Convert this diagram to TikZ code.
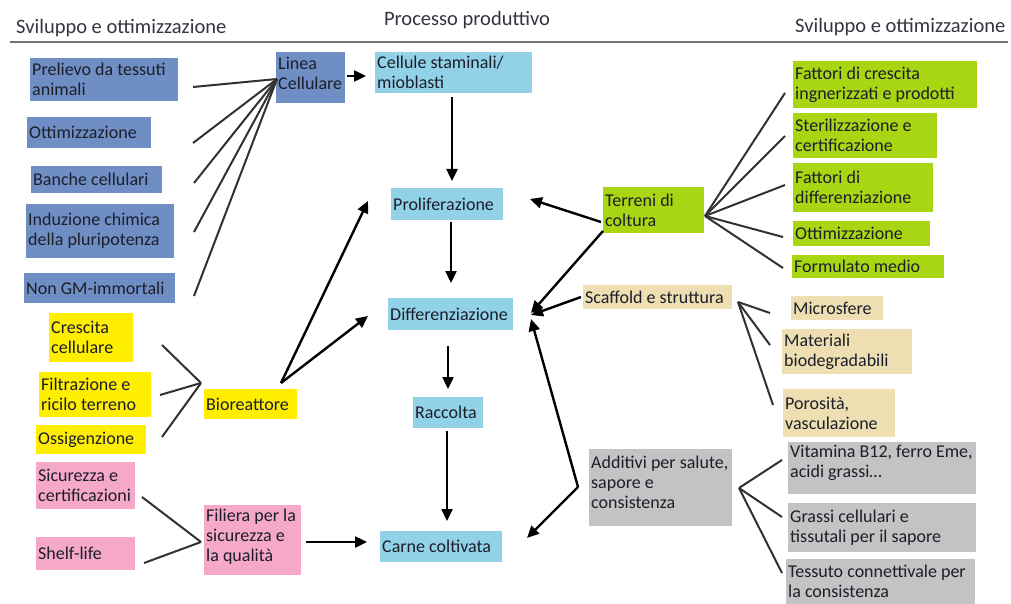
\documentclass[tikz,border=0pt]{standalone}
\usepackage{fontspec}
\setmainfont{Carlito}
\usetikzlibrary{arrows.meta}
\definecolor{cblue}{RGB}{111,143,196}
\definecolor{csky}{RGB}{146,210,232}
\definecolor{cyel}{RGB}{255,238,0}
\definecolor{cpink}{RGB}{245,168,200}
\definecolor{cgreen}{RGB}{168,214,18}
\definecolor{cbeige}{RGB}{238,223,178}
\definecolor{cgray}{RGB}{195,195,195}
\definecolor{ctext}{RGB}{28,30,42}
\definecolor{cline}{RGB}{50,50,50}
\definecolor{chead}{RGB}{115,115,115}
\newcommand\mybx[8][0]{%
  \node[boxs,fill=#7,minimum width=#5pt,minimum height=#6pt] (#2) at (#3,#4) {};
  \node[lbl] (#2-t) at ([xshift=2pt,yshift=#1pt]#2.west) {#8};}
\begin{document}
\begin{tikzpicture}[x=1pt,y=-1pt,
  boxs/.style={anchor=north west,inner sep=0pt,draw=none},
  lbl/.style={anchor=west,align=left,inner sep=0pt,text=ctext,font=\fontsize{18}{20}\selectfont},
  ttl/.style={inner sep=0pt,text=ctext!90,font=\fontsize{20.5}{24}\selectfont},
  conn/.style={draw=cline,line width=2pt},
  arr/.style={draw=black,line width=2.4pt,-{Triangle[length=12pt,width=11pt]}}]
\useasboundingbox (0,0) rectangle (1011,604);
\fill[white] (0,0) rectangle (1011,604);

% titles and header line
\node[ttl,anchor=west] (tl) at (16,28) {Sviluppo e ottimizzazione};
\node[ttl] (tc) at (467,20) {Processo produttivo};
\node[ttl,anchor=west] (tr) at (795,27) {Sviluppo e ottimizzazione};
\coordinate (hl) at (10,42);
\coordinate (hr) at (1008,42);
\draw[chead,line width=2pt] (hl) -- (hr);

% blue
\mybx{prel}{30}{58}{148}{43}{cblue}{Prelievo da tessuti\\animali}
\mybx{ott}{27}{117}{124}{31}{cblue}{Ottimizzazione}
\mybx{banc}{31}{166}{131}{27}{cblue}{Banche cellulari}
\mybx{ind}{26}{204}{148}{54}{cblue}{Induzione chimica\\della pluripotenza}
\mybx{ngm}{24}{273}{151}{30}{cblue}{Non GM-immortali}
\mybx[4]{lin}{276}{52}{69}{51}{cblue}{Linea\\Cellulare}

% sky blue process
\mybx{cel}{375}{52}{157}{41}{csky}{Cellule staminali/\\mioblasti}
\mybx{prol}{391}{188}{112}{32}{csky}{Proliferazione}
\mybx{diff}{388}{298}{125}{32}{csky}{Differenziazione}
\mybx{racc}{413}{397}{70}{31}{csky}{Raccolta}
\mybx{carn}{380}{531}{122}{31}{csky}{Carne coltivata}

% yellow
\mybx{cres}{49}{313}{84}{49}{cyel}{Crescita\\cellulare}
\mybx{filt}{39}{372}{112}{45}{cyel}{Filtrazione e\\ricilo terreno}
\mybx{oss}{36}{425}{110}{29}{cyel}{Ossigenzione}
\mybx{bio}{204}{389}{93}{30}{cyel}{Bioreattore}

% pink
\mybx{sic}{36}{462}{99}{47}{cpink}{Sicurezza e\\certificazioni}
\mybx{shelf}{36}{537}{99}{33}{cpink}{Shelf-life}
\mybx[4]{fil}{204}{505}{97}{70}{cpink}{Filiera per la\\sicurezza e\\la qualità}

% green
\mybx{terr}{603}{187}{101}{46}{cgreen}{Terreni di\\coltura}
\mybx{fcres}{793}{61}{184}{47}{cgreen}{Fattori di crescita\\ingnerizzati e prodotti}
\mybx{ster}{793}{113}{144}{45}{cgreen}{Sterilizzazione e\\certificazione}
\mybx{fdiff}{793}{163}{140}{49}{cgreen}{Fattori di\\differenziazione}
\mybx{ott2}{793}{221}{137}{25}{cgreen}{Ottimizzazione}
\mybx{form}{792}{255}{152}{23}{cgreen}{Formulato medio}

% beige
\mybx{scaf}{583}{285}{149}{24}{cbeige}{Scaffold e struttura}
\mybx{micr}{791}{296}{92}{24}{cbeige}{Microsfere}
\mybx{mat}{782}{329}{130}{45}{cbeige}{Materiali\\biodegradabili}
\mybx{por}{783}{389}{112}{48}{cbeige}{Porosità,\\vasculazione}

% gray
\mybx[5]{add}{589}{449}{143}{77}{cgray}{Additivi per salute,\\sapore e\\consistenza}
\mybx[5]{vit}{788}{442}{188}{52}{cgray}{Vitamina B12, ferro Eme,\\acidi grassi…}
\mybx{gras}{788}{503}{188}{49}{cgray}{Grassi cellulari e\\tissutali per il sapore}
\mybx{tess}{786}{559}{189}{45}{cgray}{Tessuto connettivale per\\la consistenza}

% coordinates for free ends
\coordinate (b1) at (193,87);
\coordinate (b2) at (193,143);
\coordinate (b3) at (194,183);
\coordinate (b4) at (194,232);
\coordinate (b5) at (194,296);
\coordinate (lc) at (277,79);
\coordinate (y1) at (162,345);
\coordinate (y2) at (160,395);
\coordinate (y3) at (162,437);
\coordinate (yv) at (201,383);
\coordinate (bs) at (281,383);
\coordinate (bp) at (368,201);
\coordinate (bd) at (368,316);
\coordinate (p1) at (142,497);
\coordinate (p2) at (144,563);
\coordinate (pv) at (201,542);
\coordinate (fs) at (306,542);
\coordinate (fe) at (367,542);
\coordinate (ls) at (347,76);
\coordinate (le) at (366,76);
\coordinate (a1s) at (452,97);
\coordinate (a1e) at (452,181);
\coordinate (a2s) at (451,222);
\coordinate (a2e) at (451,283);
\coordinate (a3s) at (448,346);
\coordinate (a3e) at (448,389);
\coordinate (a4s) at (447,431);
\coordinate (a4e) at (447,521);
\coordinate (ts1) at (601,222);
\coordinate (tp) at (530,199);
\coordinate (ts2) at (603,231);
\coordinate (td) at (531,313);
\coordinate (ss) at (581,297);
\coordinate (sd) at (531,315);
\coordinate (av) at (578,487);
\coordinate (ad) at (531,319);
\coordinate (ac) at (527,538);
\coordinate (tv) at (705,216);
\coordinate (g1) at (785,93);
\coordinate (g2) at (785,136);
\coordinate (g3) at (785,185);
\coordinate (g4) at (783,237);
\coordinate (g5) at (783,268);
\coordinate (sv) at (738,302);
\coordinate (s1) at (770,313);
\coordinate (s2) at (770,345);
\coordinate (s3) at (773,405);
\coordinate (gv) at (739,488);
\coordinate (r1) at (782,460);
\coordinate (r2) at (782,517);
\coordinate (r3) at (782,573);

% connectors left
\foreach \p in {b1,b2,b3,b4,b5} \draw[conn] (\p) -- (lc);
\foreach \p in {y1,y2,y3} \draw[conn] (\p) -- (yv);
\foreach \p in {p1,p2} \draw[conn] (\p) -- (pv);
\draw[arr] (bs) -- (bp);
\draw[arr] (bs) -- (bd);
\draw[arr] (fs) -- (fe);
\draw[arr] (ls) -- (le);

% process arrows
\draw[arr] (a1s) -- (a1e);
\draw[arr] (a2s) -- (a2e);
\draw[arr] (a3s) -- (a3e);
\draw[arr] (a4s) -- (a4e);

% right arrows
\draw[arr] (ts1) -- (tp);
\draw[arr] (ts2) -- (td);
\draw[arr] (ss) -- (sd);
\draw[arr] (av) -- (ad);
\draw[arr] (av) -- (ac);

% right connectors
\foreach \p in {g1,g2,g3,g4,g5} \draw[conn] (tv) -- (\p);
\foreach \p in {s1,s2,s3} \draw[conn] (sv) -- (\p);
\foreach \p in {r1,r2,r3} \draw[conn] (gv) -- (\p);
\end{tikzpicture}
\end{document}
